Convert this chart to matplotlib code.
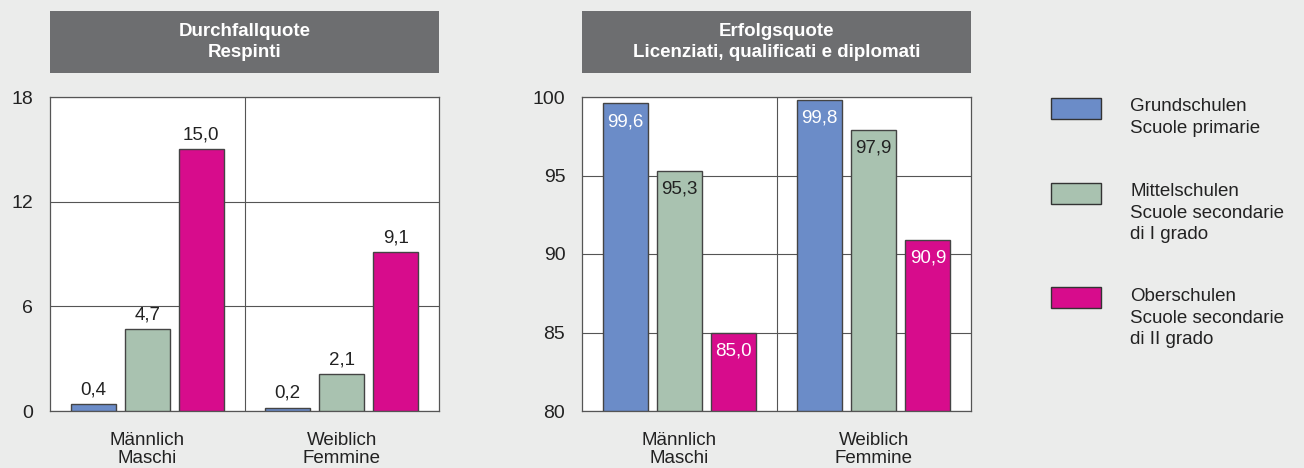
import numpy as np
import matplotlib.pyplot as plt
from matplotlib.patches import Rectangle

plt.rcParams['font.family'] = ['Liberation Sans', 'DejaVu Sans']

groups = ['Männlich\nMaschi', 'Weiblich\nFemmine']
series = ['Grundschulen\nScuole primarie',
          'Mittelschulen\nScuole secondarie\ndi I grado',
          'Oberschulen\nScuole secondarie\ndi II grado']
colors = ['#6b8cc8', '#a9c2b0', '#d70c8c']

fail_rate = [[0.4, 0.2], [4.7, 2.1], [15.0, 9.1]]
success_rate = [[99.6, 99.8], [95.3, 97.9], [85.0, 90.9]]

W, H = 1304, 468
bg = '#ebeceb'
fig = plt.figure(figsize=(W / 100, H / 100), dpi=100, facecolor=bg)


def px(x0, y0, x1, y1):
    return [x0 / W, 1 - y1 / H, (x1 - x0) / W, (y1 - y0) / H]


def title_box(x0, x1, text):
    r = Rectangle((x0 / W, 1 - 73 / H), (x1 - x0) / W, 62 / H,
                  transform=fig.transFigure, facecolor='#6d6e70',
                  edgecolor='none')
    fig.patches.append(r)
    fig.text((x0 + x1) / 2 / W, 1 - 42 / H, text, color='white',
             fontsize=13.5, fontweight='bold', ha='center', va='center',
             linespacing=1.3)


def draw(ax, data, ylim, yticks, inside):
    ax.set_facecolor('white')
    width = 0.232
    step = 0.278
    centers = np.array([0.5, 1.5])
    for i, vals in enumerate(data):
        xs = centers + (i - 1) * step
        base = ylim[0]
        heights = [v - base for v in vals]
        ax.bar(xs, heights, width, bottom=base, color=colors[i],
               edgecolor='#444444', linewidth=1.0, zorder=3)
        for x, v in zip(xs, vals):
            lbl = f'{v:.1f}'.replace('.', ',')
            if inside:
                tc = '#222222' if i == 1 else 'white'
                ax.annotate(lbl, (x, v), xytext=(0, -7),
                            textcoords='offset points', ha='center',
                            va='top', fontsize=13.5, color=tc, zorder=4)
            else:
                ax.annotate(lbl, (x, v), xytext=(0, 4),
                            textcoords='offset points', ha='center',
                            va='bottom', fontsize=13.5, color='#222222',
                            zorder=4)
    ax.set_xlim(0, 2)
    ax.set_ylim(*ylim)
    ax.set_yticks(yticks)
    ax.yaxis.grid(True, color='#555555', linewidth=0.8, zorder=1)
    ax.axvline(1, color='#555555', linewidth=0.8, zorder=1)
    ax.set_xticks(centers)
    ax.set_xticklabels(groups, fontsize=13.5, color='#222222',
                       linespacing=1.1)
    ax.tick_params(length=0, colors='#222222')
    ax.tick_params(axis='y', pad=12, labelsize=14)
    ax.tick_params(axis='x', pad=15)
    for s in ax.spines.values():
        s.set_color('#555555')
        s.set_linewidth(0.9)


ax1 = fig.add_axes(px(50, 97, 439, 411))
draw(ax1, fail_rate, (0, 18), [0, 6, 12, 18], inside=False)
title_box(50, 439, 'Durchfallquote\nRespinti')

ax2 = fig.add_axes(px(582, 97, 971, 411))
draw(ax2, success_rate, (80, 100), [80, 85, 90, 95, 100], inside=True)
title_box(582, 971, 'Erfolgsquote\nLicenziati, qualificati e diplomati')

# legend
leg_y = [98, 183, 287]
text_y = [98, 183, 288]
for i in range(3):
    r = Rectangle((1051 / W, 1 - (leg_y[i] + 21) / H), 50 / W, 21 / H,
                  transform=fig.transFigure, facecolor=colors[i],
                  edgecolor='#333333', linewidth=1.0)
    fig.patches.append(r)
    fig.text(1130 / W, 1 - text_y[i] / H, series[i], fontsize=13.5,
             color='#222222', ha='left', va='top', linespacing=1.35)

fig.savefig('out.png', dpi=100, facecolor=bg)
